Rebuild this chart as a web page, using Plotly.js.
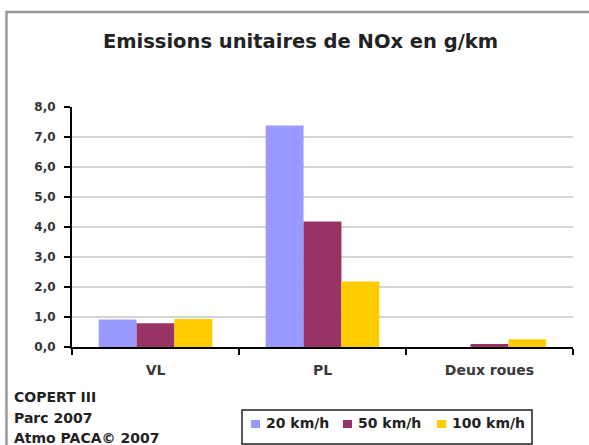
<!DOCTYPE html>
<html><head><meta charset="utf-8">
<script src="https://cdn.plot.ly/plotly-3.0.1.min.js"></script>
<style>body{margin:0;background:#fff}#c{width:589px;height:445px}</style>
</head><body><div id="c"></div>
<script>
const categories = ["VL", "PL", "Deux roues"];
const seriesNames = ["20 km/h", "50 km/h", "100 km/h"];
const v20 = [0.92, 7.38, 0.0];
const v50 = [0.79, 4.18, 0.1];
const v100 = [0.93, 2.18, 0.26];
const colors = ["#9999FF", "#993366", "#FFCC00"];
const sourceLines = ["COPERT III", "Parc 2007", "Atmo PACA© 2007"];

const W = 589, H = 445, L = 72, R = 16, T = 107, B = 98;
const pw = W - L - R, ph = H - T - B;
const px = x => (x - L) / pw;
const py = y => (H - B - y) / ph;

const font = "DejaVu Sans, Verdana, sans-serif";
const data = [v20, v50, v100].map((v, i) => ({
  type: "bar", x: categories, y: v, name: seriesNames[i],
  marker: {color: colors[i]}, showlegend: false
}));

// manual legend (box, colour squares, labels)
const legSq = [251, 343, 437];
const legShapes = [{
  type: "rect", xref: "paper", yref: "paper",
  x0: px(242), x1: px(532), y0: py(410), y1: py(444),
  line: {color: "#222", width: 1.5}, fillcolor: "#fff"
}].concat(legSq.map((x, i) => ({
  type: "rect", xref: "paper", yref: "paper",
  x0: px(x), x1: px(x + 9), y0: py(420), y1: py(428),
  line: {width: 0}, fillcolor: colors[i]
})));
const legAnn = legSq.map((x, i) => ({
  text: "<b>" + seriesNames[i] + "</b>", xref: "paper", yref: "paper",
  x: px(x + 13), y: py(423), xanchor: "left", yanchor: "middle",
  showarrow: false, font: {size: 14, color: "#222", family: font}
}));

const layout = {
  width: W, height: H,
  margin: {l: L, r: R, t: T, b: B},
  paper_bgcolor: "#fff", plot_bgcolor: "#fff",
  separators: ",.",
  bargap: 0.32, bargroupgap: 0,
  font: {family: font, color: "#333"},
  title: {text: "<b>Emissions unitaires de NOx en g/km</b>", x: 300.5 / W, xref: "container", xanchor: "center",
          y: 1 - 41 / H, yref: "container", yanchor: "middle",
          font: {size: 19.5, color: "#222", family: font}},
  xaxis: {
    showline: true, linecolor: "#000", linewidth: 2,
    ticks: "outside", tickson: "boundaries", ticklen: 6, tickcolor: "#000", tickwidth: 1.5,
    ticklabelstandoff: 9,
    tickfont: {size: 14, color: "#3a3a3a", family: font, weight: "bold"},
    showgrid: false, fixedrange: true
  },
  yaxis: {
    range: [0, 8], dtick: 1, tickformat: ".1f",
    showline: true, linecolor: "#000", linewidth: 2,
    ticks: "outside", ticklen: 6, tickcolor: "#000", tickwidth: 1.5,
    ticklabelstandoff: 6,
    tickfont: {size: 12, color: "#333", family: font, weight: "bold"},
    showgrid: true, gridcolor: "#d4d4d4", gridwidth: 2,
    zeroline: false, fixedrange: true
  },
  showlegend: false,
  shapes: [{
    type: "rect", xref: "paper", yref: "paper",
    x0: px(6.5), x1: px(600), y0: py(12), y1: py(460),
    line: {color: "#999", width: 2.5}, fillcolor: "rgba(0,0,0,0)", layer: "below"
  }].concat(legShapes),
  annotations: sourceLines.map((t, i) => ({
    text: "<b>" + t + "</b>", xref: "paper", yref: "paper",
    x: px(12), y: py(397 + i * 20.5), xanchor: "left", yanchor: "middle",
    showarrow: false, font: {size: 14, color: "#222", family: font}
  })).concat(legAnn)
};

Plotly.newPlot("c", data, layout, {displayModeBar: false, staticPlot: true});
</script></body></html>
